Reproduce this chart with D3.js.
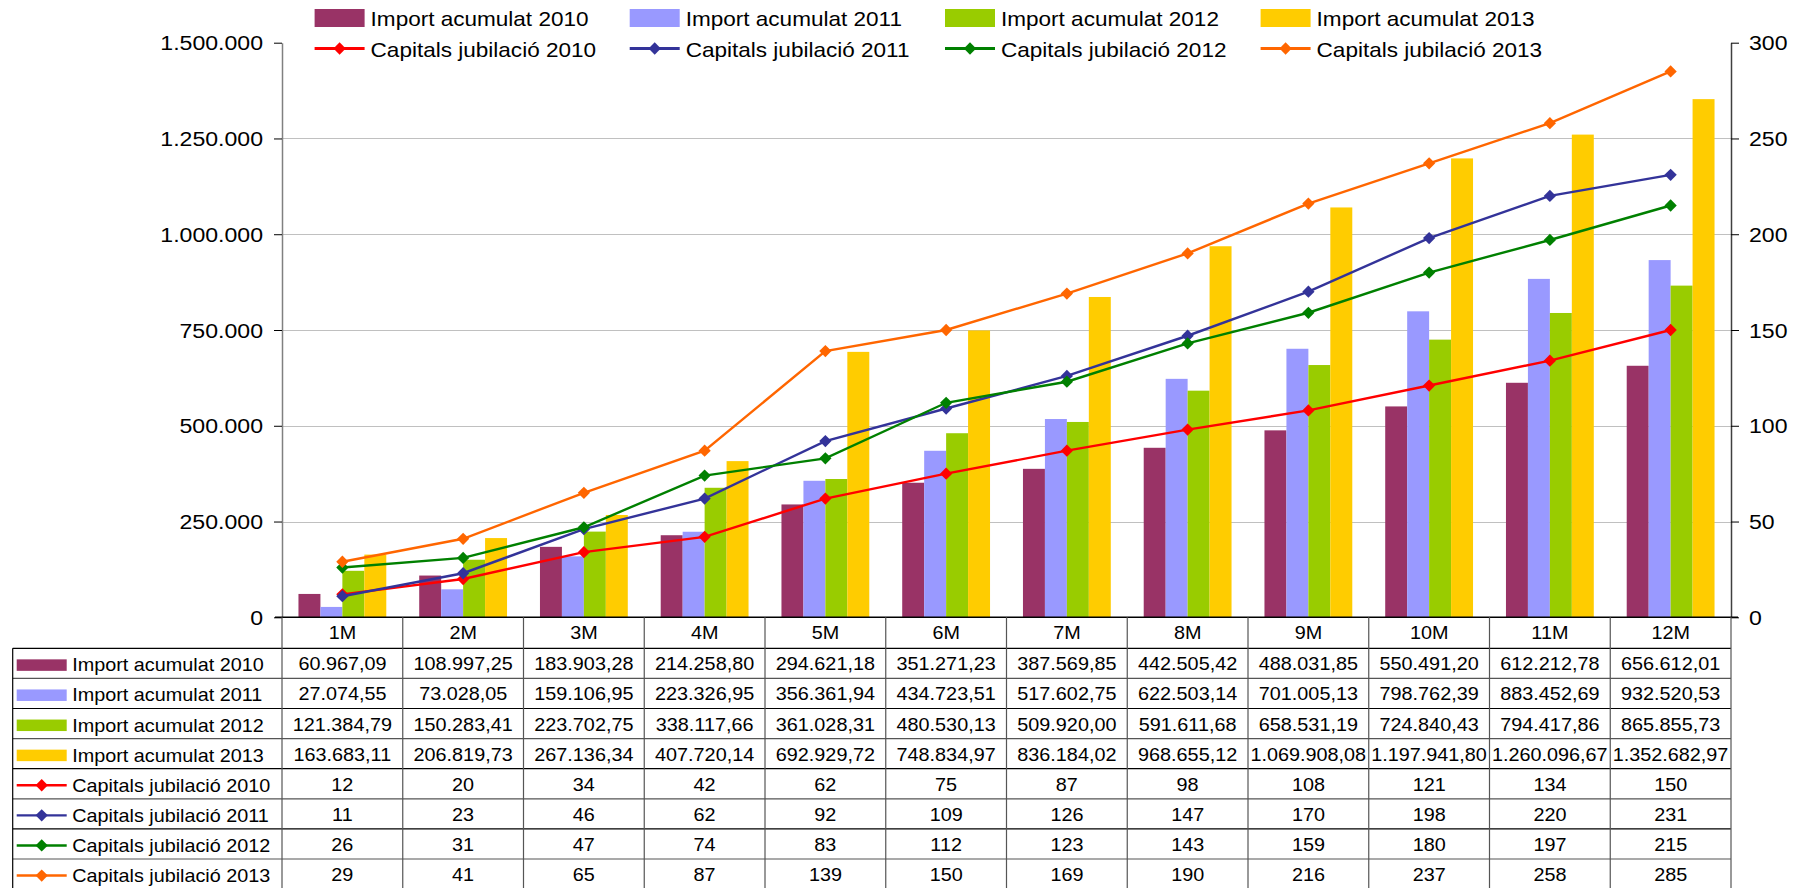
<!DOCTYPE html>
<html>
<head>
<meta charset="utf-8">
<script src="https://cdn.jsdelivr.net/npm/d3@7"></script>
<style>
  body { margin: 0; background: #fff; }
  text { font-family: "Liberation Sans", Arial, sans-serif; fill: #000; }
</style>
</head>
<body>
<svg id="chart" width="1805" height="888"></svg>
<script>
// ---- data ----
const categories = ["1M","2M","3M","4M","5M","6M","7M","8M","9M","10M","11M","12M"];

const barNames = ["Import acumulat 2010","Import acumulat 2011","Import acumulat 2012","Import acumulat 2013"];
const import2010 = [60967.09,108997.25,183903.28,214258.80,294621.18,351271.23,387569.85,442505.42,488031.85,550491.20,612212.78,656612.01];
const import2011 = [27074.55,73028.05,159106.95,223326.95,356361.94,434723.51,517602.75,622503.14,701005.13,798762.39,883452.69,932520.53];
const import2012 = [121384.79,150283.41,223702.75,338117.66,361028.31,480530.13,509920.00,591611.68,658531.19,724840.43,794417.86,865855.73];
const import2013 = [163683.11,206819.73,267136.34,407720.14,692929.72,748834.97,836184.02,968655.12,1069908.08,1197941.80,1260096.67,1352682.97];

const lineNames = ["Capitals jubilació 2010","Capitals jubilació 2011","Capitals jubilació 2012","Capitals jubilació 2013"];
const capitals2010 = [12,20,34,42,62,75,87,98,108,121,134,150];
const capitals2011 = [11,23,46,62,92,109,126,147,170,198,220,231];
const capitals2012 = [26,31,47,74,83,112,123,143,159,180,197,215];
const capitals2013 = [29,41,65,87,139,150,169,190,216,237,258,285];

const leftTicks = [0,250000,500000,750000,1000000,1250000,1500000];
const rightTicks = [0,50,100,150,200,250,300];

// ---- styling ----
const barColors = ["#993366","#9999FF","#99CC00","#FFCC00"];
const lineColors = ["#FF0000","#333399","#008000","#FF6600"];

const barValues = [import2010, import2011, import2012, import2013];
const lineValues = [capitals2010, capitals2011, capitals2012, capitals2013];

const W = 1805, H = 888;
const plot = { left: 282, right: 1731, top: 42.7, bottom: 617.3 };
const SX = 1.1; // horizontal stretch applied to all labels

const loc = d3.formatLocale({ decimal: ",", thousands: ".", grouping: [3], currency: ["", ""] });
const fmtTick = loc.format(",.0f");
const fmtVal = loc.format(",.2f");

const svg = d3.select("#chart");

function label(g, x, y, str, size, anchor) {
  return g.append("text")
    .attr("transform", `translate(${x},${y}) scale(${SX},1)`)
    .attr("font-size", size)
    .attr("text-anchor", anchor)
    .text(str);
}

// ---- scales ----
const x = d3.scaleBand().domain(categories).range([plot.left, plot.right]).paddingInner(0).paddingOuter(0);
const xs = d3.scaleBand().domain(d3.range(4)).range([0, x.bandwidth()]).paddingInner(0).paddingOuter(0.75);
const yL = d3.scaleLinear().domain([0, 1500000]).range([plot.bottom, plot.top]);
const yR = d3.scaleLinear().domain([0, 300]).range([plot.bottom, plot.top]);

// ---- gridlines ----
svg.append("g").selectAll("line")
  .data(leftTicks.filter(t => t > 0 && t < 1500000))
  .join("line")
  .attr("x1", plot.left).attr("x2", plot.right)
  .attr("y1", d => Math.round(yL(d)) + 0.5).attr("y2", d => Math.round(yL(d)) + 0.5)
  .attr("stroke", "#C0C0C0").attr("stroke-width", 1);

// ---- bars ----
const barG = svg.append("g");
barValues.forEach((vals, si) => {
  barG.append("g").selectAll("rect")
    .data(vals)
    .join("rect")
    .attr("x", (d, i) => x(categories[i]) + xs(si))
    .attr("width", xs.bandwidth())
    .attr("y", d => yL(d))
    .attr("height", d => yL(0) - yL(d))
    .attr("fill", barColors[si]);
});

// ---- lines ----
const diamond = d3.symbol().type(d3.symbolDiamond2).size(96);
const lineGen = d3.line().x((d, i) => x(categories[i]) + x.bandwidth() / 2).y(d => yR(d));
lineValues.forEach((vals, si) => {
  const g = svg.append("g");
  g.append("path").attr("d", lineGen(vals)).attr("fill", "none")
    .attr("stroke", lineColors[si]).attr("stroke-width", 2.4);
  g.selectAll("path.m").data(vals).join("path").attr("class", "m")
    .attr("d", diamond)
    .attr("transform", (d, i) => `translate(${x(categories[i]) + x.bandwidth() / 2},${yR(d)})`)
    .attr("fill", lineColors[si]);
});

// ---- axes ----
const axisL = svg.append("g").attr("transform", `translate(${plot.left},0)`)
  .call(d3.axisLeft(yL).tickValues(leftTicks).tickFormat(() => "").tickSizeInner(8).tickSizeOuter(0));
axisL.select(".domain").attr("stroke", "#808080").attr("stroke-width", 1.5);
axisL.selectAll(".tick line").attr("stroke", "#000");
leftTicks.forEach(t => label(svg, plot.left - 19, yL(t) + 7.5, fmtTick(t), 21, "end"));

const axisR = svg.append("g").attr("transform", `translate(${plot.right},0)`)
  .call(d3.axisRight(yR).tickValues(rightTicks).tickFormat(() => "").tickSizeInner(8).tickSizeOuter(0));
axisR.select(".domain").attr("stroke", "#404040").attr("stroke-width", 1.5);
axisR.selectAll(".tick line").attr("stroke", "#000");
rightTicks.forEach(t => label(svg, plot.right + 18, yR(t) + 7.5, t, 21, "start"));

// zero line
svg.append("line").attr("x1", plot.left - 7).attr("x2", plot.right + 7)
  .attr("y1", plot.bottom).attr("y2", plot.bottom).attr("stroke", "#000").attr("stroke-width", 1.5);

// ---- data table ----
const tbl = svg.append("g");
const headerBottom = 648.3;
const rowH = 30.1;
const tableLeft = 12.7;
const rowNames = barNames.concat(lineNames);
const rowValues = barValues.concat(lineValues);

// horizontal rules
d3.range(rowNames.length + 1).forEach(r => {
  const yy = headerBottom + r * rowH;
  tbl.append("line").attr("x1", tableLeft).attr("x2", plot.right)
    .attr("y1", yy).attr("y2", yy).attr("stroke", r % 2 ? "#555" : "#000").attr("stroke-width", 1.2);
});
// vertical rules
tbl.append("line").attr("x1", tableLeft).attr("x2", tableLeft)
  .attr("y1", headerBottom).attr("y2", H).attr("stroke", "#000").attr("stroke-width", 1.2);
categories.forEach(c => {
  tbl.append("line").attr("x1", x(c)).attr("x2", x(c))
    .attr("y1", plot.bottom).attr("y2", H).attr("stroke", "#555").attr("stroke-width", 1.2);
});
tbl.append("line").attr("x1", plot.right).attr("x2", plot.right)
  .attr("y1", plot.bottom).attr("y2", H).attr("stroke", "#555").attr("stroke-width", 1.2);

// header
categories.forEach(c => label(tbl, x(c) + x.bandwidth() / 2, 639.3, c, 18, "middle"));

// rows
rowNames.forEach((name, r) => {
  const cy = headerBottom + r * rowH + rowH / 2;
  if (r < 4) {
    tbl.append("rect").attr("x", 16.7).attr("y", cy - 4).attr("width", 50).attr("height", 11.5)
      .attr("fill", barColors[r]);
  } else {
    tbl.append("line").attr("x1", 16.7).attr("x2", 66.7).attr("y1", cy + 1.5).attr("y2", cy + 1.5)
      .attr("stroke", lineColors[r - 4]).attr("stroke-width", 2.4);
    tbl.append("path").attr("d", diamond).attr("transform", `translate(41.7,${cy + 1.5})`)
      .attr("fill", lineColors[r - 4]);
  }
  label(tbl, 72.3, cy + 8, name, 18, "start");
  rowValues[r].forEach((v, i) => {
    const txt = r < 4 ? fmtVal(v) : String(v);
    label(tbl, x(categories[i]) + x.bandwidth() / 2, cy + 7, txt, 18, "middle");
  });
});

// ---- legend ----
const legendX = [314.6, 629.7, 945, 1260.6];
const legend = svg.append("g");
barNames.forEach((name, i) => {
  legend.append("rect").attr("x", legendX[i]).attr("y", 9).attr("width", 50).attr("height", 18)
    .attr("fill", barColors[i]);
  label(legend, legendX[i] + 56, 25.5, name, 20.5, "start");
});
lineNames.forEach((name, i) => {
  legend.append("line").attr("x1", legendX[i]).attr("x2", legendX[i] + 50)
    .attr("y1", 48.5).attr("y2", 48.5).attr("stroke", lineColors[i]).attr("stroke-width", 2.8);
  legend.append("path").attr("d", diamond).attr("transform", `translate(${legendX[i] + 25},48.5)`)
    .attr("fill", lineColors[i]);
  label(legend, legendX[i] + 56, 56.5, name, 20.5, "start");
});
</script>
</body>
</html>
